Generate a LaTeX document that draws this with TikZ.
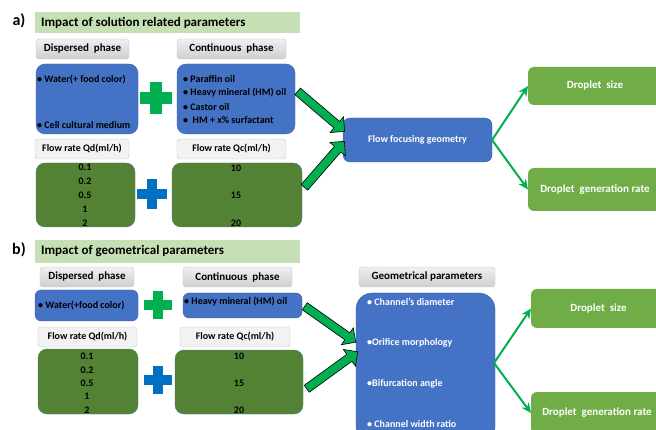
\documentclass[tikz,border=0pt]{standalone}
\usepackage{fontspec}
\setmainfont{Carlito}
\usetikzlibrary{shapes.arrows,calc,arrows.meta}
\definecolor{blu}{HTML}{4472C4}
\definecolor{dgreen}{HTML}{548235}
\definecolor{lgreen}{HTML}{C5E0B4}
\definecolor{ogreen}{HTML}{70AD47}
\definecolor{pgreen}{HTML}{00B050}
\definecolor{pblue}{HTML}{0070C0}
\definecolor{fgray}{HTML}{F2F2F2}
\definecolor{bgray}{HTML}{C8C8C8}
\tikzset{
  base/.style={anchor=north west, inner sep=0pt, outer sep=0pt},
  titlebar/.style={base, fill=lgreen},
  hdr/.style={base, rounded corners=3pt, top color=gray!12, bottom color=gray!38, draw=gray!45, line width=0.4pt},
  frbox/.style={base, rounded corners=3pt, fill=fgray, draw=bgray, line width=0.4pt},
  bluebox/.style={base, rounded corners=9pt, fill=blu, draw=blu!80!black, line width=0.3pt},
  greenbox/.style={base, rounded corners=9pt, fill=dgreen, draw=blu!60!dgreen, line width=0.4pt},
  outbox/.style={base, rounded corners=6pt, fill=ogreen},
  txt/.style={inner sep=0pt, font=\bfseries\fontsize{10}{11}\selectfont},
  htxt/.style={inner sep=0pt, font=\bfseries\fontsize{11}{12}\selectfont},
  ttxt/.style={inner sep=0pt, anchor=west, font=\bfseries\fontsize{13}{14}\selectfont},
  lbl/.style={inner sep=0pt, font=\bfseries\fontsize{16}{18}\selectfont},
  wtxt/.style={txt, text=white},
  otxt/.style={inner sep=0pt, text=white, font=\bfseries\fontsize{11}{12}\selectfont},
  barrow/.style={single arrow, fill=pgreen, draw=black, line width=0.6pt, inner xsep=0pt, inner ysep=4pt,
     single arrow head extend=6pt, single arrow head indent=0pt, single arrow tip angle=90, anchor=center},
  thinarrow/.style={draw=pgreen, line width=2pt, -{Stealth[length=10pt,width=9pt]}},
}
\newcommand\blockarrow[2]{\path let \p1=(#1), \p2=(#2), \n1={atan2(\y2-\y1,\x2-\x1)}, \n2={veclen(\x2-\x1,\y2-\y1)} in node[barrow, minimum height=\n2, rotate=\n1] at ($(#1)!0.5!(#2)$) {};}
\newcommand\plussign[5]{% x y size thick color
  \fill[#5] (#1-#3/2,#2-#4/2) rectangle (#1+#3/2,#2+#4/2);
  \fill[#5] (#1-#4/2,#2-#3/2) rectangle (#1+#4/2,#2+#3/2);}
\begin{document}
\begin{tikzpicture}[x=1pt,y=-1pt]
\clip (0,0) rectangle (656,430);
\fill[white] (0,0) rectangle (656,430);
% ---------------- a) ----------------
\node[lbl] (la) at (19,21) {a)};
\node[titlebar, minimum width=265pt, minimum height=21pt] (ta) at (35,12) {};
\node[ttxt] (tta) at (41,22.5) {Impact of solution related parameters};
\node[hdr, minimum width=93pt, minimum height=20pt] (hda) at (36,39) {};
\node[htxt] at (hda.center) {Dispersed\ \ phase};
\node[hdr, minimum width=109pt, minimum height=20pt] (hca) at (177,39) {};
\node[htxt] at (hca.center) {Continuous\ \ phase};
\node[bluebox, minimum width=102pt, minimum height=70pt] (bda) at (36,64) {};
\node[txt, anchor=west] (bda1) at (37,80) {• Water(+ food color)};
\node[txt, anchor=west] (bda2) at (37,125) {• Cell cultural medium};
\node[bluebox, minimum width=118pt, minimum height=70pt] (bca) at (177,64) {};
\node[txt, anchor=west] (bca1) at (183,79) {• Paraffin oil};
\node[txt, anchor=west] (bca2) at (183,93) {• Heavy mineral (HM) oil};
\node[txt, anchor=west] (bca3) at (183,107) {• Castor oil};
\node[txt, anchor=west] (bca4) at (183,120) {•\ \ HM + x\% surfactant};
\plussign{156}{98}{32}{12}{pgreen}
\node[frbox, minimum width=94pt, minimum height=20pt] (fda) at (35,139) {};
\node[txt] at (fda.center) {Flow rate Qd(ml/h)};
\node[frbox, minimum width=109pt, minimum height=20pt] (fca) at (177,139) {};
\node[txt] at (fca.center) {Flow rate Qc(ml/h)};
\node[greenbox, minimum width=99pt, minimum height=64pt] (gda) at (36,163) {};
\node[txt] (gda1) at (85,167) {0.1};
\node[txt] (gda2) at (85,181) {0.2};
\node[txt] (gda3) at (85,195) {0.5};
\node[txt] (gda4) at (85,209) {1};
\node[txt] (gda5) at (85,223) {2};
\plussign{152}{194}{30}{10}{pblue}
\node[greenbox, minimum width=130pt, minimum height=64pt] (gca) at (172,163) {};
\node[txt] (gca1) at (236,168) {10};
\node[txt] (gca2) at (236,195) {15};
\node[txt] (gca3) at (236,223) {20};
\node[bluebox, rounded corners=7pt, minimum width=149pt, minimum height=44pt] (ffg) at (343,118) {};
\node[wtxt] at (ffg.center) {Flow focusing geometry};
\node[outbox, minimum width=140pt, minimum height=38pt] (dsa) at (528,67) {};
\node[otxt] at ($(dsa.center)+(-3,0)$) {Droplet\ \ size};
\node[outbox, minimum width=140pt, minimum height=43pt] (dga) at (528,168) {};
\node[otxt] at ($(dga.center)+(-3,0)$) {Droplet\ \ generation rate};
\coordinate (a1s) at (296,90);  \coordinate (a1e) at (343,130);
\coordinate (a2s) at (303,189); \coordinate (a2e) at (343,143);
\blockarrow{a1s}{a1e}
\blockarrow{a2s}{a2e}
\draw[thinarrow] (ffg.east) -- (dsa.west);
\draw[thinarrow] (ffg.east) -- (dga.west);
% ---------------- b) ----------------
\node[lbl] (lb) at (19,250) {b)};
\node[titlebar, minimum width=265pt, minimum height=23pt] (tb) at (35,240) {};
\node[ttxt] (ttb) at (41,251.5) {Impact of geometrical parameters};
\node[hdr, minimum width=94pt, minimum height=20pt] (hdb) at (40,267) {};
\node[htxt] at (hdb.center) {Dispersed\ \ phase};
\node[hdr, minimum width=109pt, minimum height=20pt] (hcb) at (183,267) {};
\node[htxt] at (hcb.center) {Continuous\ \ phase};
\node[bluebox, rounded corners=6pt, minimum width=103pt, minimum height=31pt] (bdb) at (35,290) {};
\node[txt, anchor=west] (bdb1) at (38,306) {• Water(+food color)};
\node[bluebox, rounded corners=6pt, minimum width=119pt, minimum height=25pt] (bcb) at (183,293) {};
\node[txt, anchor=west] (bcb1) at (184,302) {• Heavy mineral (HM) oil};
\plussign{158}{305}{28}{10}{pgreen}
\node[frbox, minimum width=99pt, minimum height=20pt] (fdb) at (38,327) {};
\node[txt] at (fdb.center) {Flow rate Qd(ml/h)};
\node[frbox, minimum width=110pt, minimum height=20pt] (fcb) at (180,327) {};
\node[txt] at (fcb.center) {Flow rate Qc(ml/h)};
\node[greenbox, minimum width=100pt, minimum height=65pt] (gdb) at (38,349) {};
\node[txt] (gdb1) at (87,356) {0.1};
\node[txt] (gdb2) at (87,370) {0.2};
\node[txt] (gdb3) at (87,383) {0.5};
\node[txt] (gdb4) at (87,396) {1};
\node[txt] (gdb5) at (87,410) {2};
\plussign{158}{380}{28}{10}{pblue}
\node[greenbox, minimum width=128pt, minimum height=64pt] (gcb) at (175,350) {};
\node[txt] (gcb1) at (239,356) {10};
\node[txt] (gcb2) at (239,383) {15};
\node[txt] (gcb3) at (239,410) {20};
\node[hdr, minimum width=136pt, minimum height=20pt] (hgb) at (359,267) {};
\node[htxt] at (hgb.center) {Geometrical parameters};
\node[bluebox, rounded corners=16pt, minimum width=139pt, minimum height=150pt] (geo) at (356,293) {};
\node[wtxt, anchor=west] (geo1) at (367,302) {• Channel’s diameter};
\node[wtxt, anchor=west] (geo2) at (367,343) {•Orifice morphology};
\node[wtxt, anchor=west] (geo3) at (367,384) {•Bifurcation angle};
\node[wtxt, anchor=west] (geo4) at (367,424) {• Channel width ratio};
\coordinate (geoe) at (494,363);
\node[outbox, minimum width=135pt, minimum height=39pt] (dsb) at (531,289) {};
\node[otxt] at ($(dsb.center)+(0,0)$) {Droplet\ \ size};
\node[outbox, minimum width=134pt, minimum height=42pt] (dgb) at (531,392) {};
\node[otxt] at ($(dgb.center)+(-1,0)$) {Droplet\ \ generation rate};
\coordinate (b1s) at (303,305); \coordinate (b1e) at (354,341);
\coordinate (b2s) at (305,390); \coordinate (b2e) at (356,353);
\blockarrow{b1s}{b1e}
\blockarrow{b2s}{b2e}
\draw[thinarrow] (geoe) -- (dsb.west);
\draw[thinarrow] (geoe) -- (dgb.west);
\end{tikzpicture}
\end{document}
